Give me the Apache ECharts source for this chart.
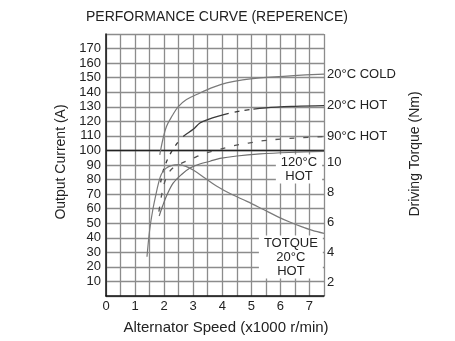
<!DOCTYPE html>
<html><head><meta charset="utf-8">
<script src="https://cdn.jsdelivr.net/npm/echarts@6/dist/echarts.min.js"></script>
<style>html,body{margin:0;padding:0;background:#fff}#c{width:455px;height:341px}</style>
</head><body><div id="c"></div>
<script>
// ---- data (speed in x1000 r/min, current in A, torque in Nm) ----
const speedTicks = [0, 1, 2, 3, 4, 5, 6, 7];
const currentTicks = [10, 20, 30, 40, 50, 60, 70, 80, 90, 100, 110, 120, 130, 140, 150, 160, 170];
const torqueTicks = [2, 4, 6, 8, 10];

const cold20 = [[1.85,97],[1.95,107],[2.08,116.5],[2.3,124.5],[2.48,130],[2.77,135],[3.23,139.5],[3.7,143.5],[4.15,146.4],[4.7,148.5],[5.3,149.8],[6.46,151.4],[7.5,152.5]];
const hot20 = [[1.88,78],[1.96,85.5],[2.14,94.8],[2.37,102.8],[2.65,109.5],[3.0,114.5],[3.23,118.8],[3.5,121.2],[3.87,123.6],[4.27,125.7],[4.73,127.5],[5.5,129.3],[6.5,130.3],[7.5,130.8]];
const hot90 = [[1.82,58],[1.9,68],[2.0,77],[2.15,84.5],[2.35,88.8],[2.6,91.3],[2.89,93.6],[3.35,97.6],[3.86,100.5],[4.38,103.2],[4.9,105.1],[5.42,106.7],[6.0,107.8],[6.63,108.6],[7.5,109.5]];
const hot120 = [[1.83,55],[1.95,62],[2.1,69.5],[2.31,77.5],[2.6,83.5],[2.89,87.9],[3.2,90.5],[3.58,92.6],[3.92,94.5],[4.5,96.2],[5.3,97.6],[6.3,98.6],[7.5,99.3]];
const torque20 = [[1.41,3.70],[1.5,5.46],[1.6,6.73],[1.7,7.71],[1.8,8.58],[1.9,9.22],[2.05,9.61],[2.25,9.81],[2.5,9.87],[2.75,9.76],[3.0,9.51],[3.4,8.98],[3.8,8.44],[4.3,7.90],[4.85,7.41],[5.4,6.88],[5.9,6.39],[6.3,6.04],[6.7,5.73],[7.1,5.46],[7.5,5.26]];

const seriesNames = ['20°C COLD', '20°C HOT', '90°C HOT', '120°C\nHOT', 'TOTQUE\n20°C\nHOT'];

const FONT = "'Liberation Sans', Arial, sans-serif";
const chart = echarts.init(document.getElementById('c'), null, {renderer: 'canvas'});

const endLbl = {show: true, formatter: '{a}', distance: 3, color: '#222', fontSize: 13, fontFamily: FONT};

chart.setOption({
  animation: false,
  backgroundColor: '#fff',
  title: {
    text: 'PERFORMANCE CURVE (REPERENCE)',
    left: 86, top: 10, padding: 0,
    textStyle: {fontSize: 14, fontWeight: 'normal', color: '#222', fontFamily: FONT}
  },
  grid: {left: 106, right: 131, top: 34, bottom: 45},
  xAxis: {
    type: 'value', min: 0, max: 7.5, interval: 0.5,
    name: 'Alternator Speed (x1000 r/min)', nameLocation: 'middle', nameGap: 24,
    nameTextStyle: {fontSize: 15, color: '#222', fontFamily: FONT, padding: [0, 0, 0, 22]},
    axisLine: {show: true, lineStyle: {color: '#111', width: 1.5}},
    axisTick: {show: false},
    axisLabel: {customValues: speedTicks, margin: 4, fontSize: 13, color: '#222', fontFamily: FONT},
    splitLine: {show: true, lineStyle: {color: '#8c8c8c', width: 1.3}}
  },
  yAxis: [{
    type: 'value', min: 0, max: 180, interval: 10,
    name: 'Output Current (A)', nameLocation: 'middle', nameGap: 38, nameRotate: 90,
    nameTextStyle: {fontSize: 14, color: '#222', fontFamily: FONT, padding: [0, 0, 0, 6]},
    axisLine: {show: true, lineStyle: {color: '#111', width: 1.5}},
    axisTick: {show: false},
    axisLabel: {customValues: currentTicks, margin: 5, fontSize: 13, color: '#222', fontFamily: FONT},
    splitLine: {show: true, lineStyle: {color: '#8c8c8c', width: 1.3}}
  }, {
    type: 'value', position: 'right', min: 1.062, max: 18.64,
    name: 'Driving Torque (Nm)', nameLocation: 'middle', nameGap: 84, nameRotate: 90,
    nameTextStyle: {fontSize: 14, color: '#222', fontFamily: FONT, padding: [0, 0, 0, 22]},
    axisLine: {show: false}, axisTick: {show: false}, splitLine: {show: false},
    axisLabel: {customValues: torqueTicks, margin: 3, fontSize: 13, color: '#222', fontFamily: FONT}
  }],
  series: [
    {name: seriesNames[0], type: 'line', data: cold20, smooth: 0.35, symbol: 'none', z: 3,
     lineStyle: {color: '#7a7a7a', width: 1.2}, endLabel: endLbl},
    {name: seriesNames[1], type: 'line', data: hot20, smooth: 0.35, symbol: 'none', z: 3,
     lineStyle: {color: '#3a3a3a', width: 1.3, type: [4,6,4,6,4,6,4,6,4,8,52,6,5,5,5,4,200]}, endLabel: endLbl},
    {name: seriesNames[2], type: 'line', data: hot90, smooth: 0.35, symbol: 'none', z: 3,
     lineStyle: {color: '#555', width: 1.3, type: [5, 9]}, endLabel: endLbl},
    {name: seriesNames[3], type: 'line', data: hot120, smooth: 0.35, symbol: 'none', z: 3,
     lineStyle: {color: '#6e6e6e', width: 1.2},
     markLine: {silent: true, symbol: 'none', label: {show: false},
       lineStyle: {color: '#222', width: 1.3, type: 'solid'}, data: [{yAxis: 100}], z: 2},
     markPoint: {symbol: 'rect', symbolSize: 0, z: 5,
       label: {show: true, position: 'inside', formatter: '{b}', backgroundColor: '#fff',
         padding: [1, 5, 0, 5], lineHeight: 14, align: 'center', fontSize: 13, color: '#222', fontFamily: FONT},
       data: [{name: seriesNames[3], coord: [6.64, 87.2]}, {name: seriesNames[4], coord: [6.36, 26.8]}]}},
    {name: seriesNames[4], type: 'line', yAxisIndex: 1, data: torque20, smooth: 0.35, symbol: 'none', z: 3,
     lineStyle: {color: '#7a7a7a', width: 1.2}}
  ]
});
</script></body></html>
